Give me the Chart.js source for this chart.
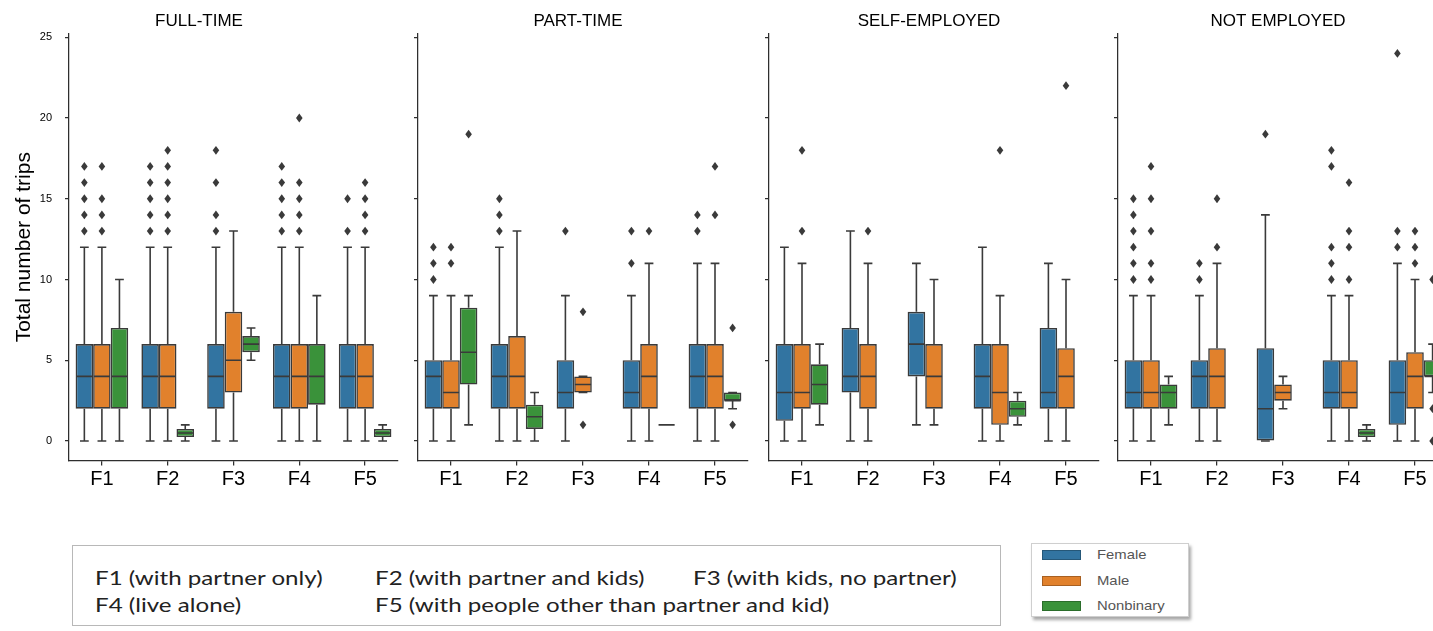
<!DOCTYPE html>
<html>
<head>
<meta charset="utf-8">
<script src="https://cdn.jsdelivr.net/npm/chart.js@4.4.1/dist/chart.umd.min.js"></script>
<style>
  html, body { margin: 0; padding: 0; background: #fff; width: 1433px; height: 631px; overflow: hidden; }
  #wrap { position: relative; width: 1433px; height: 631px; overflow: hidden; }
  #wrap canvas { position: absolute; top: 0; }
  .famkey { position: absolute; left: 72px; top: 545px; width: 929px; height: 81px; box-sizing: border-box;
            border: 1px solid #b8b8b8; font-family: Lato, "Open Sans", sans-serif; font-size: 19px; color: #222; }
  .famkey span { position: absolute; white-space: nowrap; line-height: 24px; transform: scaleX(1.27); transform-origin: 0 50%; }
  .sexkey { position: absolute; left: 1031px; top: 543px; width: 158px; height: 74px; box-sizing: border-box;
            border: 1px solid #cfcfcf; background: #fff; box-shadow: 2px 3px 3px rgba(0,0,0,0.35);
            font-family: "Liberation Sans", Arial, sans-serif; font-size: 13.5px; color: #555; }
  .sexkey .patch { position: absolute; left: 10px; width: 39px; height: 10px; box-sizing: border-box; border: 1px solid rgba(0,0,0,0.25); }
  .sexkey .lab { position: absolute; left: 65px; line-height: 16px; transform: scaleX(1.1); transform-origin: 0 50%; white-space: nowrap; }
</style>
</head>
<body>
<div id="wrap">
  <canvas id="p0" width="400" height="500" style="left:0px;width:400px;height:500px"></canvas>
  <canvas id="p1" width="342" height="500" style="left:408px;width:342px;height:500px"></canvas>
  <canvas id="p2" width="342" height="500" style="left:759px;width:342px;height:500px"></canvas>
  <canvas id="p3" width="342" height="500" style="left:1108px;width:342px;height:500px"></canvas>

  <div class="famkey" id="famkey"></div>
  <div class="sexkey" id="sexkey"></div>
</div>

<script>
// ---- categories and labels ----
const categories = ['F1', 'F2', 'F3', 'F4', 'F5'];
const genders = ['Female', 'Male', 'Nonbinary'];
const panelTitles = ['FULL-TIME', 'PART-TIME', 'SELF-EMPLOYED', 'NOT EMPLOYED'];
const yTicks = [0, 5, 10, 15, 20, 25];
const familyNotes = [
  'F1 (with partner only)', 'F2 (with partner and kids)', 'F3 (with kids, no partner)',
  'F4 (live alone)', 'F5 (with people other than partner and kid)'
];

// ---- box statistics: [low whisker, Q1, median, Q3, high whisker] per family type ----
// FULL-TIME
const ftFemale    = [[0,2,4,6,12], [0,2,4,6,12], [0,2,4,6,12], [0,2,4,6,12], [0,2,4,6,12]];
const ftMale      = [[0,2,4,6,12], [0,2,4,6,12], [0,3,5,8,13], [0,2,4,6,12], [0,2,4,6,12]];
const ftNonbinary = [[0,2,4,7,10], [0,0.25,0.5,0.75,1], [5,5.5,6,6.5,7], [0,2.25,4,6,9], [0,0.25,0.5,0.75,1]];
const ftFemaleOut    = [[13,14,15,16,17], [13,14,15,16,17], [13,14,16,18], [13,14,15,16,17], [13,15]];
const ftMaleOut      = [[13,14,15,17], [13,14,15,16,17,18], [], [13,14,15,16,20], [13,14,15,16]];
const ftNonbinaryOut = [[], [], [], [], []];

// PART-TIME
const ptFemale    = [[0,2,4,5,9], [0,2,4,6,12], [0,2,3,5,9], [0,2,3,5,9], [0,2,4,6,11]];
const ptMale      = [[0,2,3,5,9], [0,2,4,6.5,13], [3,3,3.5,4,4], [0,2,4,6,11], [0,2,4,6,11]];
const ptNonbinary = [[1,3.5,5.5,8.25,9], [0,0.75,1.5,2.25,3], null, [1,1,1,1,1], [2,2.5,2.5,3,3]];
const ptFemaleOut    = [[10,11,12], [13,14,15], [13], [11,13], [13,14]];
const ptMaleOut      = [[11,12], [], [1,8], [13], [14,17]];
const ptNonbinaryOut = [[19], [], [], [], [1,7]];

// SELF-EMPLOYED
const seFemale    = [[0,1.25,3,6,12], [0,3,4,7,13], [1,4,6,8,11], [0,2,4,6,12], [0,2,3,7,11]];
const seMale      = [[0,2,3,6,11], [0,2,4,6,11], [1,2,4,6,10], [0,1,3,6,9], [0,2,4,5.75,10]];
const seNonbinary = [[1,2.25,3.5,4.75,6], null, null, [1,1.5,2,2.5,3], null];
const seFemaleOut    = [[], [], [], [], []];
const seMaleOut      = [[13,18], [13], [], [18], [22]];
const seNonbinaryOut = [[], [], [], [], []];

// NOT EMPLOYED
const neFemale    = [[0,2,3,5,9], [0,2,4,5,9], [0,0,2,5.75,14], [0,2,3,5,9], [0,1,3,5,11]];
const neMale      = [[0,2,3,5,9], [0,2,4,5.75,11], [2,2.5,3,3.5,4], [0,2,3,5,9], [0,2,4,5.5,10]];
const neNonbinary = [[1,2,3,3.5,4], null, null, [0,0.25,0.5,0.75,1], [3,4,4,5,6]];
const neFemaleOut    = [[10,11,12,13,14,15], [10,11], [19], [10,11,12,17,18], [12,13,24]];
const neMaleOut      = [[10,11,13,15,17], [12,15], [], [10,12,13,16], [11,12,13]];
const neNonbinaryOut = [[], [], [], [], [0,2,10]];

// ---- styling ----
const FONT = '"Liberation Sans", Arial, Helvetica, sans-serif';
const genderColors = ['#3274a1', '#e1812c', '#3a923a'];
const EDGE = '#3a3a3a';
const AXIS = '#2e2e2e';

const panels = [
  { stats: [ftFemale, ftMale, ftNonbinary], out: [ftFemaleOut, ftMaleOut, ftNonbinaryOut] },
  { stats: [ptFemale, ptMale, ptNonbinary], out: [ptFemaleOut, ptMaleOut, ptNonbinaryOut] },
  { stats: [seFemale, seMale, seNonbinary], out: [seFemaleOut, seMaleOut, seNonbinaryOut] },
  { stats: [neFemale, neMale, neNonbinary], out: [neFemaleOut, neMaleOut, neNonbinaryOut] }
];

// Whiskers, caps, medians and outlier diamonds, placed on each box bar via the scales.
const boxPlotDetails = {
  id: 'boxPlotDetails',
  afterDatasetsDraw(chart) {
    const ctx = chart.ctx;
    const y = chart.scales.y;
    const area = chart.chartArea;
    ctx.save();
    ctx.beginPath();
    ctx.rect(area.left - 6, area.top - 6, area.right - area.left + 12, area.bottom - area.top + 12);
    ctx.clip();
    chart.data.datasets.forEach((ds, di) => {
      const meta = chart.getDatasetMeta(di);
      meta.data.forEach((bar, j) => {
        const s = ds.stats[j];
        if (!s) return;
        const [lo, q1, med, q3, hi] = s;
        const x = bar.x, w = bar.width;
        const py = v => y.getPixelForValue(v);
        ctx.strokeStyle = EDGE;
        ctx.lineWidth = 1.6;
        ctx.lineCap = 'butt';
        ctx.beginPath();
        // whiskers
        ctx.moveTo(x, py(q1)); ctx.lineTo(x, py(lo));
        ctx.moveTo(x, py(q3)); ctx.lineTo(x, py(hi));
        // caps
        ctx.moveTo(x - w / 4, py(lo)); ctx.lineTo(x + w / 4, py(lo));
        ctx.moveTo(x - w / 4, py(hi)); ctx.lineTo(x + w / 4, py(hi));
        // median
        ctx.moveTo(x - w / 2 + 0.75, py(med)); ctx.lineTo(x + w / 2 - 0.75, py(med));
        ctx.stroke();
        // outliers (thin diamonds)
        ctx.fillStyle = EDGE;
        (ds.outliers[j] || []).forEach(v => {
          const cy = py(v);
          ctx.beginPath();
          ctx.moveTo(x, cy - 4.4);
          ctx.lineTo(x + 3.3, cy);
          ctx.lineTo(x, cy + 4.4);
          ctx.lineTo(x - 3.3, cy);
          ctx.closePath();
          ctx.fill();
        });
      });
    });
    ctx.restore();
  }
};

function makePanel(idx) {
  const first = idx === 0;
  const p = panels[idx];
  const datasets = genders.map((g, gi) => ({
    label: g,
    data: p.stats[gi].map(s => (s ? [s[1], s[3]] : null)),
    stats: p.stats[gi],
    outliers: p.out[gi],
    backgroundColor: genderColors[gi],
    borderColor: EDGE,
    borderWidth: 1.6,
    borderSkipped: false,
    barPercentage: 1.0,
    categoryPercentage: 0.8
  }));

  return new Chart(document.getElementById('p' + idx), {
    type: 'bar',
    data: { labels: categories, datasets },
    options: {
      responsive: false,
      animation: false,
      events: [],
      layout: { padding: { left: 0, right: 2, top: 0, bottom: 0 } },
      plugins: {
        legend: { display: false },
        tooltip: { enabled: false },
        title: {
          display: true,
          text: panelTitles[idx],
          color: '#000',
          font: { family: FONT, size: 17, weight: 'normal', lineHeight: 1.2 },
          padding: { top: 10.8, bottom: 2.8 }
        }
      },
      scales: {
        x: {
          type: 'category',
          offset: true,
          grid: { display: true, drawOnChartArea: false, offset: false, tickLength: 5, color: AXIS, lineWidth: 1.25 },
          border: { display: true, color: AXIS, width: 1.25 },
          ticks: { color: '#000', font: { family: FONT, size: 20 }, padding: 2, maxRotation: 0, autoSkip: false },
          afterFit: s => { s.height = 39.6; }
        },
        y: {
          min: -1.2,
          max: 25.2,
          afterBuildTicks: s => { s.ticks = yTicks.map(v => ({ value: v })); },
          grid: { display: true, drawOnChartArea: false, tickLength: 4, color: AXIS, lineWidth: 1.25 },
          border: { display: true, color: AXIS, width: 1.25 },
          ticks: { display: first, color: '#000', font: { family: FONT, size: 11 }, padding: 13 },
          title: {
            display: first,
            text: 'Total number of trips',
            color: '#000',
            font: { family: FONT, size: 21, lineHeight: 1.2 },
            padding: { top: 11.4, bottom: 0 }
          },
          afterFit: s => { s.width = first ? 69 : 10; }
        }
      }
    },
    plugins: [boxPlotDetails]
  });
}

// Family-type key
const famkey = document.getElementById('famkey');
const famPos = [[22, 20], [302, 20], [620, 20], [22, 47], [302, 47]];
familyNotes.forEach((t, i) => {
  const sp = document.createElement('span');
  sp.textContent = t;
  sp.style.left = famPos[i][0] + 'px';
  sp.style.top = famPos[i][1] + 'px';
  famkey.appendChild(sp);
});

// Gender key
const sexkey = document.getElementById('sexkey');
genders.forEach((g, i) => {
  const patch = document.createElement('div');
  patch.className = 'patch';
  patch.style.top = (6 + i * 25.5) + 'px';
  patch.style.background = genderColors[i];
  sexkey.appendChild(patch);
  const lab = document.createElement('div');
  lab.className = 'lab';
  lab.textContent = g;
  lab.style.top = (3 + i * 25.5) + 'px';
  sexkey.appendChild(lab);
});

for (let i = 0; i < panelTitles.length; i++) makePanel(i);
</script>
</body>
</html>
